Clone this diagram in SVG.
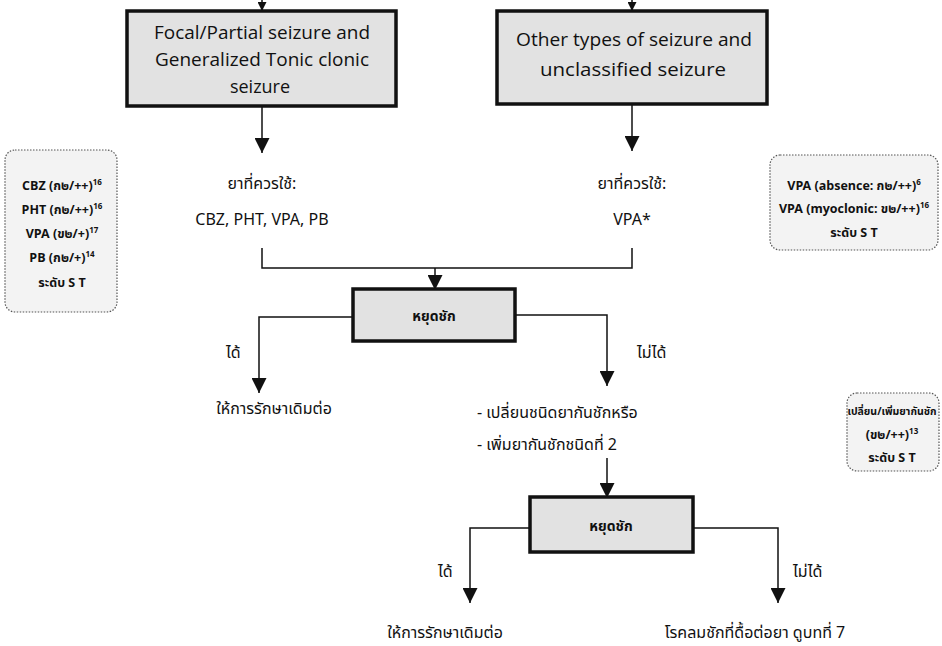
<svg xmlns="http://www.w3.org/2000/svg" width="942" height="646" viewBox="0 0 942 646">
<style>
.t{font-family:"Noto Sans Thai","Noto Sans","Open Sans","Liberation Sans",sans-serif;font-size:16px;fill:#111}
.lat{font-family:"Open Sans","Noto Sans",sans-serif;font-size:18px;fill:#111}
.b{font-family:"Noto Sans Thai","Noto Sans","Liberation Sans",sans-serif;font-size:12.5px;font-weight:bold;fill:#111}
.bs{font-family:"Noto Sans Thai","Noto Sans","Liberation Sans",sans-serif;font-size:10.5px;font-weight:bold;fill:#111}
.hb{font-family:"Noto Sans Thai","Noto Sans","Liberation Sans",sans-serif;font-size:14px;font-weight:bold;fill:#111}
.box{fill:#e2e2e2;stroke:#111;stroke-width:3.5}
.note{fill:#f3f3f3;stroke:#555;stroke-width:1.2;stroke-dasharray:1.5 1.5}
.ln{fill:none;stroke:#111;stroke-width:1.5}
.sup{font-size:8px}
</style>
<defs>
<marker id="ah" viewBox="0 0 10 10" refX="10" refY="5" markerWidth="9" markerHeight="9" markerUnits="userSpaceOnUse" orient="auto">
<path d="M0,0 L10,5 L0,10 Z" fill="#111"/>
</marker>
<marker id="ahb" viewBox="0 0 10 10" refX="10" refY="5" markerWidth="15" markerHeight="15" markerUnits="userSpaceOnUse" orient="auto">
<path d="M0,0 L10,5 L0,10 Z" fill="#111"/>
</marker>
</defs>

<g id="connectors">
<line class="ln" x1="262" y1="0" x2="262" y2="11" marker-end="url(#ah)"/>
<line class="ln" x1="632" y1="0" x2="632" y2="11" marker-end="url(#ah)"/>
<line class="ln" x1="262" y1="106" x2="262" y2="153" marker-end="url(#ahb)"/>
<line class="ln" x1="632" y1="104" x2="632" y2="151" marker-end="url(#ahb)"/>
<polyline class="ln" points="262,248 262,268 632,268 632,248"/>
<line class="ln" x1="435" y1="268" x2="435" y2="290" marker-end="url(#ahb)"/>
<polyline class="ln" points="353,317 259,317 259,393" marker-end="url(#ahb)"/>
<polyline class="ln" points="515,315 607,315 607,386" marker-end="url(#ahb)"/>
<line class="ln" x1="607" y1="458" x2="607" y2="498" marker-end="url(#ahb)"/>
<polyline class="ln" points="530,528 470,528 470,603" marker-end="url(#ahb)"/>
<polyline class="ln" points="693,528 778,528 778,603" marker-end="url(#ahb)"/>
</g>

<g id="focal">
<rect class="box" x="127" y="11" width="269" height="95"/>
<text class="lat" x="262" y="39" text-anchor="middle" textLength="216" lengthAdjust="spacingAndGlyphs">Focal/Partial seizure and</text>
<text class="lat" x="262" y="66" text-anchor="middle" textLength="214" lengthAdjust="spacingAndGlyphs">Generalized Tonic clonic</text>
<text class="lat" x="260" y="93" text-anchor="middle">seizure</text>
</g>

<g id="other">
<rect class="box" x="497" y="11" width="270" height="93"/>
<text class="lat" x="634" y="46" text-anchor="middle" textLength="236" lengthAdjust="spacingAndGlyphs">Other types of seizure and</text>
<text class="lat" x="633" y="76" text-anchor="middle" textLength="186" lengthAdjust="spacingAndGlyphs">unclassified seizure</text>
</g>

<g id="drugs-left">
<text class="t" x="262" y="189" text-anchor="middle">ยาที่ควรใช้:</text>
<text class="t" x="262" y="225" text-anchor="middle">CBZ, PHT, VPA, PB</text>
</g>

<g id="drugs-right">
<text class="t" x="632" y="189" text-anchor="middle">ยาที่ควรใช้:</text>
<text class="t" x="632" y="225" text-anchor="middle">VPA*</text>
</g>

<g id="stop1">
<rect class="box" x="353" y="289" width="162" height="52"/>
<text class="hb" x="434" y="321" text-anchor="middle">หยุดชัก</text>
</g>

<g id="yes1">
<text class="t" x="226" y="358">ได้</text>
<text class="t" x="274" y="414" text-anchor="middle">ให้การรักษาเดิมต่อ</text>
</g>

<g id="no1">
<text class="t" x="637" y="358">ไม่ได้</text>
<text class="t" x="477" y="418">- เปลี่ยนชนิดยากันชักหรือ</text>
<text class="t" x="477" y="450">- เพิ่มยากันชักชนิดที่ 2</text>
</g>

<g id="stop2">
<rect class="box" x="530" y="497" width="163" height="55"/>
<text class="hb" x="611" y="531" text-anchor="middle">หยุดชัก</text>
</g>

<g id="yes2">
<text class="t" x="438" y="577">ได้</text>
<text class="t" x="445" y="638" text-anchor="middle">ให้การรักษาเดิมต่อ</text>
</g>

<g id="no2">
<text class="t" x="793" y="577">ไม่ได้</text>
<text class="t" x="755" y="638" text-anchor="middle">โรคลมชักที่ดื้อต่อยา ดูบทที่ 7</text>
</g>

<g id="note-left">
<rect class="note" x="5" y="150" width="112" height="162" rx="10"/>
<text class="b" x="62" y="190" text-anchor="middle">CBZ (ก๒/++)<tspan class="sup" dy="-5">16</tspan></text>
<text class="b" x="62" y="214" text-anchor="middle">PHT (ก๒/++)<tspan class="sup" dy="-5">16</tspan></text>
<text class="b" x="62" y="238" text-anchor="middle">VPA (ข๒/+)<tspan class="sup" dy="-5">17</tspan></text>
<text class="b" x="62" y="262" text-anchor="middle">PB (ก๒/+)<tspan class="sup" dy="-5">14</tspan></text>
<text class="b" x="62" y="287" text-anchor="middle">ระดับ S T</text>
</g>

<g id="note-right">
<rect class="note" x="770" y="155" width="168" height="95" rx="10"/>
<text class="b" x="854" y="190" text-anchor="middle">VPA (absence: ก๒/++)<tspan class="sup" dy="-5">6</tspan></text>
<text class="b" x="854" y="213" text-anchor="middle">VPA (myoclonic: ข๒/++)<tspan class="sup" dy="-5">16</tspan></text>
<text class="b" x="854" y="237" text-anchor="middle">ระดับ S T</text>
</g>

<g id="note-mid">
<rect class="note" x="847" y="393" width="92" height="78" rx="10"/>
<text class="bs" x="892" y="415" text-anchor="middle">เปลี่ยน/เพิ่มยากันชัก</text>
<text class="b" x="892" y="439" text-anchor="middle">(ข๒/++)<tspan class="sup" dy="-5">13</tspan></text>
<text class="b" x="892" y="462" text-anchor="middle">ระดับ S T</text>
</g>
</svg>
